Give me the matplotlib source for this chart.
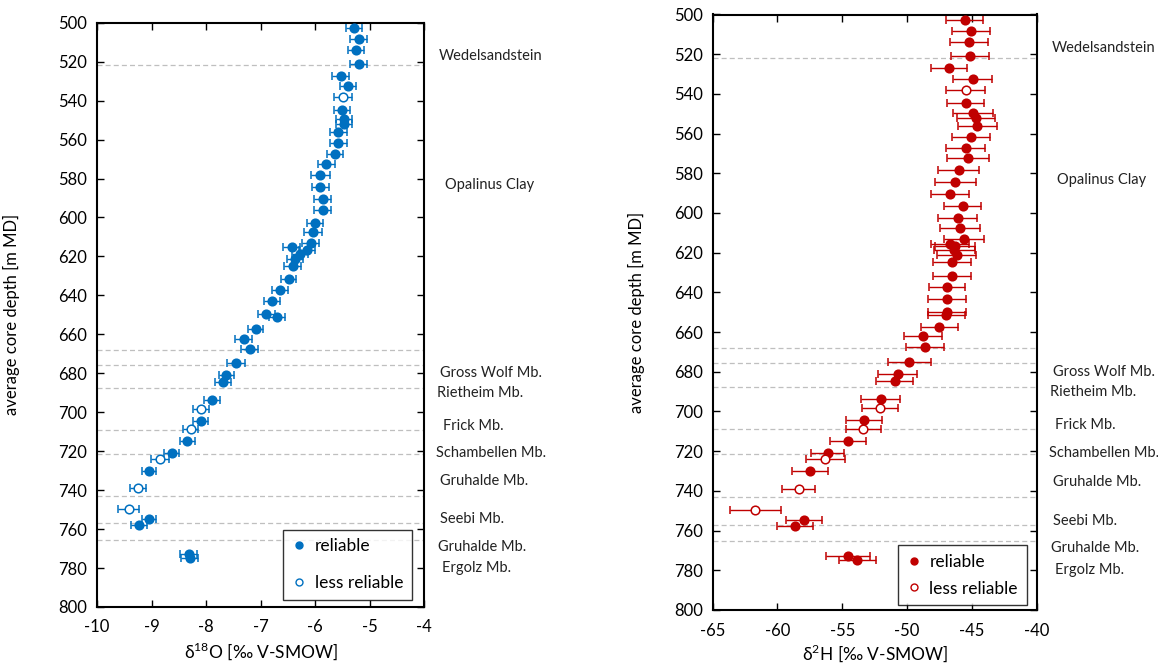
# importing required libraries
import matplotlib.pyplot as plt
from matplotlib.lines import Line2D
import matplotlib.transforms as mtransforms

# Setting parameters for figures: font family and sizes

plt.rcParams['font.family'] = ['Lato', 'DejaVu Sans']
plt.rcParams['mathtext.fontset'] = 'custom'
plt.rcParams['mathtext.rm'] = 'Lato'
plt.rcParams['font.size'] = 12
plt.rcParams['axes.unicode_minus'] = False

# Average core depth of each sample [m MD]

depth = [502.8, 508.3, 514.1, 521.1, 527.2, 532.5, 538.0, 544.6, 549.7, 552.2,
         556.1, 561.6, 567.2, 572.3, 578.1, 584.5, 590.4, 596.4, 602.7, 607.5,
         613.3, 615.4, 616.5, 618.7, 621.4, 624.9, 631.7, 637.4, 643.1, 649.8,
         651.2, 657.2, 662.2, 667.3, 674.9, 680.9, 684.7, 693.5, 698.4, 704.3,
         708.8, 715.0, 720.8, 724.0, 730.0, 739.1, 749.6, 754.8, 757.8, 772.8,
         774.9]

# 1 = reliable, 0 = less reliable

reliable = [1, 1, 1, 1, 1, 1, 0, 1, 1, 1,
            1, 1, 1, 1, 1, 1, 1, 1, 1, 1,
            1, 1, 1, 1, 1, 1, 1, 1, 1, 1,
            1, 1, 1, 1, 1, 1, 1, 1, 0, 1,
            0, 1, 1, 0, 1, 0, 0, 1, 1, 1,
            1]

# delta 18O values and errors [permil V-SMOW]

d18o = [-5.28, -5.20, -5.25, -5.20, -5.53, -5.39, -5.49, -5.51, -5.47, -5.47,
        -5.57, -5.57, -5.63, -5.79, -5.90, -5.90, -5.86, -5.86, -6.00, -6.04,
        -6.08, -6.43, -6.15, -6.28, -6.37, -6.41, -6.48, -6.64, -6.79, -6.89,
        -6.70, -7.09, -7.31, -7.20, -7.45, -7.63, -7.69, -7.89, -8.09, -8.10,
        -8.28, -8.34, -8.63, -8.84, -9.04, -9.25, -9.42, -9.04, -9.23, -8.32,
        -8.30]

d18o_err = [0.15, 0.15, 0.15, 0.15, 0.15, 0.15, 0.16, 0.15, 0.15, 0.15,
            0.15, 0.15, 0.15, 0.16, 0.17, 0.16, 0.15, 0.15, 0.15, 0.16,
            0.16, 0.15, 0.15, 0.15, 0.15, 0.15, 0.14, 0.15, 0.14, 0.15,
            0.15, 0.14, 0.15, 0.15, 0.17, 0.14, 0.15, 0.14, 0.14, 0.13,
            0.14, 0.14, 0.14, 0.17, 0.13, 0.14, 0.19, 0.13, 0.15, 0.15,
            0.15]

# delta 2H values and errors [permil V-SMOW]

d2h = [-45.56, -45.05, -45.20, -45.15, -46.77, -44.94, -45.48, -45.48, -44.94, -44.68,
       -44.58, -45.05, -45.48, -45.32, -46.02, -46.30, -46.69, -45.71, -46.10, -45.92,
       -45.61, -46.69, -46.30, -46.36, -46.17, -46.54, -46.54, -46.92, -46.92, -46.92,
       -46.98, -47.52, -48.80, -48.62, -49.83, -50.74, -50.97, -52.05, -52.09, -53.33,
       -53.38, -54.56, -56.13, -56.33, -57.49, -58.36, -61.71, -57.96, -58.67, -54.56,
       -53.84]

d2h_err = [1.41, 1.45, 1.47, 1.49, 1.38, 1.49, 1.52, 1.41, 1.53, 1.47,
           1.48, 1.45, 1.52, 1.62, 1.56, 1.58, 1.45, 1.44, 1.49, 1.54,
           1.52, 1.48, 1.52, 1.60, 1.50, 1.48, 1.44, 1.41, 1.43, 1.45,
           1.43, 1.43, 1.47, 1.44, 1.65, 1.53, 1.45, 1.52, 1.39, 1.39,
           1.35, 1.38, 1.25, 1.50, 1.38, 1.29, 1.97, 1.38, 1.38, 1.68,
           1.41]

# Formation boundaries and unit names

boundaries = [521.7, 668.0, 675.7, 687.8, 709.0, 721.5, 743.2, 757.0, 765.4]

units = ['Wedelsandstein', 'Opalinus Clay', 'Gross Wolf Mb.', 'Rietheim Mb.',
         'Frick Mb.', 'Schambellen Mb.', 'Gruhalde Mb.', 'Seebi Mb.',
         'Gruhalde Mb.', 'Ergolz Mb.']
unit_depth = [517, 583.5, 680, 690, 707, 721, 735.5, 755, 769, 780]
unit_shift = [0.046, 0.064, 0.049, 0.040, 0.058, 0.037, 0.049, 0.049, 0.043, 0.055]

blue = '#0070C0'
red = '#C00000'

# Figure with two panels placed like the original

fig = plt.figure(figsize=(11.58, 6.63), dpi=100)
ax1 = fig.add_axes([97/1158, 1-607/663, 327/1158, 584.3/663])
ax2 = fig.add_axes([712.7/1158, 1-610/663, 324/1158, 595.5/663])


def draw_panel(ax, xvals, xerr, color, xlim, xticks, xlabel, ylab_x, xlab_y):
    for b in boundaries:
        ax.axhline(b, color='#BFBFBF', lw=0.9, ls=(0, (4, 2.5)), zorder=1)

    for i in range(len(depth)):
        if reliable[i]:
            face = color
        else:
            face = 'white'
        ax.errorbar(xvals[i], depth[i], xerr=xerr[i], fmt='o', ms=6.2,
                    mfc=face, mec=color, mew=1.1, ecolor=color,
                    elinewidth=1.0, capsize=2.6, capthick=1.0, zorder=3)

    ax.set_xlim(xlim)
    ax.set_ylim(800, 500)
    ax.set_xticks(xticks)
    ax.set_yticks(range(500, 801, 20))
    ax.tick_params(direction='in', length=5, width=1, top=True, right=True,
                   labelsize=12)
    ax.tick_params(axis='x', pad=9)
    ax.tick_params(axis='y', pad=7)
    for s in ax.spines.values():
        s.set_linewidth(1.5)

    ax.set_ylabel('average core depth [m MD]', fontsize=12)
    ax.yaxis.set_label_coords(ylab_x, 0.5)
    ax.set_xlabel(xlabel, fontsize=12.5)
    ax.xaxis.set_label_coords(0.5, xlab_y)

    # unit names to the right of the panel
    trans = mtransforms.blended_transform_factory(ax.transAxes, ax.transData)
    for name, d, sh in zip(units, unit_depth, unit_shift):
        ax.text(1 + sh, d, name, transform=trans, fontsize=10.5,
                color='#222222', va='center', ha='left', clip_on=False)


draw_panel(ax1, d18o, d18o_err, blue, (-10, -4), range(-10, -3),
           r'δ$^{18}$O [‰ V-SMOW]', -0.235, -0.058)
draw_panel(ax2, d2h, d2h_err, red, (-65, -40), range(-65, -39, 5),
           r'δ$^{2}$H [‰ V-SMOW]', -0.209, -0.055)

# Legends

for ax, color, anchor, spacing in [(ax1, blue, (0.963, 0.012), 1.2),
                                   (ax2, red, (0.969, 0.008), 0.6)]:
    handles = [Line2D([], [], ls='none', marker='o', ms=5, mfc=color, mec=color),
               Line2D([], [], ls='none', marker='o', ms=5, mfc='white', mec=color, mew=1)]
    leg = ax.legend(handles, ['reliable', 'less reliable'], loc='lower right',
                    bbox_to_anchor=anchor, borderaxespad=0, fontsize=12.5,
                    frameon=True, fancybox=False, edgecolor='black',
                    handlelength=0.8, handletextpad=0.5, labelspacing=spacing,
                    borderpad=0.5)
    leg.get_frame().set_linewidth(1.0)

fig.savefig('out.png', dpi=100)
